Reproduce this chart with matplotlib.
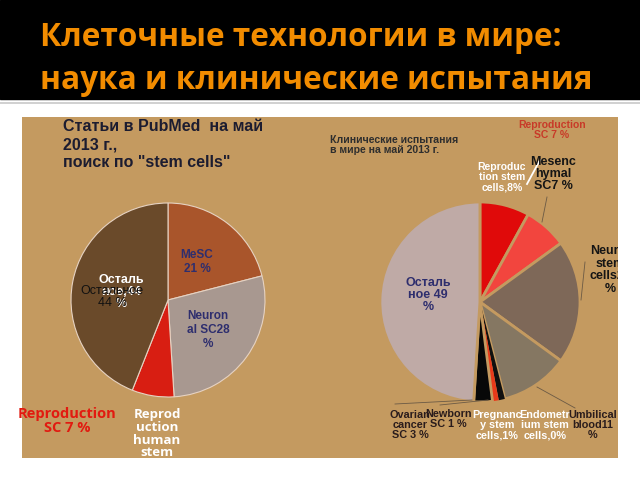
import matplotlib.pyplot as plt
from matplotlib.patches import Rectangle
from matplotlib.transforms import Bbox, TransformedBbox

# Левая диаграмма: статьи в PubMed
pub_labels = ['MeSC', 'Neuronal SC', 'Reproduction SC', 'Остальное']
pub_values = [21, 28, 7, 44]
pub_colors = ['#A9552B', '#A89890', '#D81E12', '#6A4A2A']

# Правая диаграмма: клинические испытания
trial_labels = ['Reproduction stem cells', 'Mesenchymal SC', 'Neural stem cells',
                'Umbilical blood', 'Endometrium stem cells', 'Pregnancy stem cells',
                'Newborn SC', 'Ovarian cancer SC', 'Остальное']
trial_values = [8, 7, 20, 11, 0, 1, 1, 3, 49]
trial_colors = ['#E00A0A', '#F2453E', '#7E6858', '#857762', '#101010',
                '#101010', '#E83A1A', '#080808', '#BFAAA6']
trial_explode = [0, 0, 0, 0, 0, 0, 0, 0, 0.07]

TAN = '#C49A60'
W, H = 640, 480

fig = plt.figure(figsize=(6.4, 4.8), dpi=100)
ax = fig.add_axes([0, 0, 1, 1])
ax.set_axis_off()


def Y(y):
    # пиксельная строка -> координата оси
    return H - y


def txt(x, y, s, **kw):
    kw.setdefault('ha', 'center')
    kw.setdefault('va', 'center')
    kw.setdefault('family', 'Liberation Sans')
    return ax.text(x, Y(y), s, **kw)


# фон слайда
ax.add_patch(Rectangle((0, Y(99)), W, 99, color='black', zorder=0))
ax.plot([0, W], [Y(103), Y(103)], color='#C8C8C8', lw=1.2, zorder=0)
ax.add_patch(Rectangle((22, Y(458)), 596, 341, facecolor=TAN, edgecolor='none', zorder=0))
panel_box = TransformedBbox(Bbox([[22, Y(458)], [618, Y(117)]]), ax.transData)

# заголовок
title_kw = dict(ha='left', va='baseline', family='Open Sans', weight='bold',
                fontsize=22.7, color='#F28C00')
ax.text(40, Y(46), 'Клеточные технологии в мире:', **title_kw)
ax.text(40, Y(89), 'наука и клинические испытания', **title_kw)

# левая диаграмма
w1, _ = ax.pie(pub_values, colors=pub_colors, startangle=90, counterclock=False,
               center=(168, Y(300)), radius=97,
               wedgeprops=dict(edgecolor='#E6D2C2', linewidth=0.8))

txt(63, 119, 'Статьи в PubMed  на май\n2013 г.,\nпоиск по "stem cells"', ha='left', va='top',
    fontsize=11.5, weight='bold', color='#1C1C30', linespacing=1.25)
txt(197, 262, 'MeSC\n21 %', fontsize=8.5, weight='bold', color='#2E2E6E')
txt(208, 330, 'Neuron\nal SC28\n%', fontsize=8.5, weight='bold', color='#2E2E6E')
txt(121, 292, 'Осталь\nное,44\n%', fontsize=9, weight='bold', color='white', linespacing=1.0)
txt(112, 297, 'Остальное\n44 %', fontsize=9, color='#111111', linespacing=1.1)
txt(67, 421, 'Reproduction\nSC 7 %', fontsize=10.5, weight='bold', color='#E21A10',
    family='Open Sans', linespacing=0.95)
txt(157, 440, 'Reprod\nuction\nhuman\nstem\ncells,7', fontsize=9.5, color='white',
    family='Open Sans', weight='bold', linespacing=0.98)

# правая диаграмма
w2, _ = ax.pie(trial_values, colors=trial_colors, startangle=90, counterclock=False,
               center=(480, Y(302)), radius=100, explode=trial_explode,
               wedgeprops=dict(edgecolor=TAN, linewidth=2))
for wd, v in zip(w2, trial_values):
    if v <= 1:
        wd.set_linewidth(0)

txt(330, 145, 'Клинические испытания\nв мире на май 2013 г.', ha='left', fontsize=7.6,
    weight='bold', color='#2E2E2E', linespacing=1.1)
txt(552, 130, 'Reproduction\nSC 7 %', fontsize=7.5, weight='bold', color='#C83A28',
    linespacing=1.05)
txt(502, 177, 'Reproduc\ntion stem\ncells,8%', fontsize=7.5, weight='bold', color='white',
    linespacing=1.05)
txt(553, 174, 'Mesenc\nhymal\nSC7 %', fontsize=9, weight='bold', color='#151515',
    linespacing=1.0)
ax.plot([540, 527], [Y(160), Y(184)], color='white', lw=1.3)
neu = txt(610, 270, 'Neural\nstem\ncells20\n%', fontsize=9, weight='bold',
          color='#151515', linespacing=1.05)
neu.set_clip_box(panel_box)
neu.set_clip_on(True)
txt(428, 295, 'Осталь\nное 49\n%', fontsize=9, weight='bold', color='#2E2E6E',
    linespacing=1.05)

bottom_y = 425
txt(410, bottom_y, 'Ovarian\ncancer\nSC 3 %', fontsize=7.8, weight='bold', color='#2A1C1C',
    linespacing=1.05)
txt(448, bottom_y - 6, 'Newborn\nSC 1 %', fontsize=7.8, weight='bold', color='#2A1C1C',
    linespacing=1.05)
txt(497, bottom_y, 'Pregnanc\ny stem\ncells,1%', fontsize=7.8, weight='bold', color='white',
    linespacing=1.05)
txt(545, bottom_y, 'Endometr\nium stem\ncells,0%', fontsize=7.8, weight='bold', color='white',
    linespacing=1.05)
txt(593, bottom_y, 'Umbilical\nblood11\n%', fontsize=7.8, weight='bold', color='#2A1C1C',
    linespacing=1.05)

# выноски
lead = dict(color='#6B5A45', lw=0.6)
ax.plot([537, 575], [Y(387), Y(408)], **lead)
ax.plot([547, 542], [Y(197), Y(222)], **lead)
ax.plot([585, 581], [Y(262), Y(300)], **lead)
ax.plot([395, 472], [Y(404), Y(400)], **lead)
ax.plot([440, 488], [Y(405), Y(400)], **lead)

ax.set_xlim(0, W)
ax.set_ylim(0, H)
ax.set_aspect('equal')

fig.savefig('out.png', dpi=100, facecolor='white')
